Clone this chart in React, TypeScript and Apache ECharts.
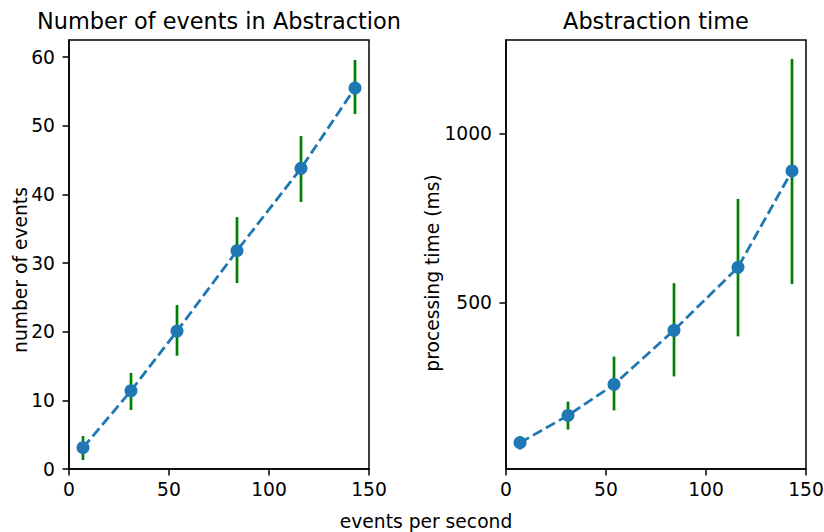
import React, { useEffect, useRef } from "react";
import * as echarts from "echarts";

// ---- data ----
const eventsPerSecond = [7, 31, 54, 84, 116, 143];

const countMean = [3.1, 11.4, 20.1, 31.8, 43.8, 55.5];
const countLow = [1.3, 8.6, 16.5, 27.1, 38.9, 51.7];
const countHigh = [4.8, 14.0, 23.9, 36.7, 48.5, 59.6];

const timeMean = [83, 164, 256, 417, 604, 890];
const timeLow = [63, 122, 179, 280, 399, 554];
const timeHigh = [103, 205, 339, 557, 807, 1223];

const xTicks = [0, 50, 100, 150];
const countTicks = [0, 10, 20, 30, 40, 50, 60];
const timeTicks = [500, 1000];

const leftTitle = "Number of events in Abstraction";
const rightTitle = "Abstraction time";
const xLabel = "events per second";
const leftYLabel = "number of events";
const rightYLabel = "processing time (ms)";

const FONT = "DejaVu Sans";
const BLUE = "#1f77b4";
const GREEN = "#008000";

export default function App() {
  const ref = useRef<HTMLDivElement>(null);

  useEffect(() => {
    if (!ref.current) return;
    const chart = echarts.init(ref.current, undefined, { renderer: "svg" });

    const axisCommon = {
      axisLine: { show: true, lineStyle: { color: "#000", width: 1.5 } },
      axisTick: { show: true, length: 6.5, lineStyle: { color: "#000", width: 1.5 } },
      splitLine: { show: false },
    };

    const plain = (v: number) => String(v);

    const makeX = (gridIndex: number) => ({
      type: "value",
      gridIndex,
      min: 0,
      max: 150,
      interval: 50,
      ...axisCommon,
      axisLabel: {
        fontSize: 18.7,
        color: "#000",
        fontFamily: FONT,
        margin: 11,
        formatter: plain,
        customValues: xTicks,
      },
      axisTick: { ...axisCommon.axisTick, customValues: xTicks },
    });

    const errRender = (params: any, api: any) => {
      const x = api.value(0);
      const p1 = api.coord([x, api.value(1)]);
      const p2 = api.coord([x, api.value(2)]);
      return {
        type: "line",
        shape: { x1: p1[0], y1: p1[1], x2: p2[0], y2: p2[1] },
        style: { stroke: GREEN, lineWidth: 2.7 },
      };
    };

    const option: any = {
      animation: false,
      backgroundColor: "#fff",
      textStyle: { fontFamily: FONT },
      grid: [
        { left: 69, top: 40, width: 300, height: 429, show: true, borderColor: "#000", borderWidth: 1.5, outerBoundsMode: "none" },
        { left: 506, top: 40, width: 300, height: 429, show: true, borderColor: "#000", borderWidth: 1.5, outerBoundsMode: "none" },
      ],
      xAxis: [makeX(0), makeX(1)],
      yAxis: [
        {
          type: "value",
          gridIndex: 0,
          min: 0,
          max: 62.5,
          ...axisCommon,
          axisLabel: { fontSize: 18.7, color: "#000", fontFamily: FONT, margin: 14, formatter: plain, customValues: countTicks },
          axisTick: { ...axisCommon.axisTick, customValues: countTicks },
        },
        {
          type: "value",
          gridIndex: 1,
          min: 5,
          max: 1279,
          ...axisCommon,
          axisLabel: { fontSize: 18.7, color: "#000", fontFamily: FONT, margin: 14, formatter: plain, customValues: timeTicks },
          axisTick: { ...axisCommon.axisTick, customValues: timeTicks },
        },
      ],
      series: [
        {
          type: "custom",
          xAxisIndex: 0,
          yAxisIndex: 0,
          z: 1,
          renderItem: errRender,
          data: eventsPerSecond.map((x, i) => [x, countLow[i], countHigh[i]]),
        },
        {
          type: "line",
          xAxisIndex: 0,
          yAxisIndex: 0,
          z: 2,
          data: eventsPerSecond.map((x, i) => [x, countMean[i]]),
          symbol: "circle",
          symbolSize: 13,
          itemStyle: { color: BLUE },
          lineStyle: { color: BLUE, width: 2.8, type: [10.4, 4.5] },
        },
        {
          type: "custom",
          xAxisIndex: 1,
          yAxisIndex: 1,
          z: 1,
          renderItem: errRender,
          data: eventsPerSecond.map((x, i) => [x, timeLow[i], timeHigh[i]]),
        },
        {
          type: "line",
          xAxisIndex: 1,
          yAxisIndex: 1,
          z: 2,
          data: eventsPerSecond.map((x, i) => [x, timeMean[i]]),
          symbol: "circle",
          symbolSize: 13,
          itemStyle: { color: BLUE },
          lineStyle: { color: BLUE, width: 2.8, type: [10.4, 4.5] },
        },
      ],
      graphic: [
        {
          type: "text",
          x: 219,
          y: 21,
          style: { text: leftTitle, textAlign: "center", textVerticalAlign: "middle", font: `22.4px '${FONT}'`, fill: "#000" },
        },
        {
          type: "text",
          x: 656,
          y: 21,
          style: { text: rightTitle, textAlign: "center", textVerticalAlign: "middle", font: `22.4px '${FONT}'`, fill: "#000" },
        },
        {
          type: "text",
          x: 426,
          y: 521,
          style: { text: xLabel, textAlign: "center", textVerticalAlign: "middle", font: `18.7px '${FONT}'`, fill: "#000" },
        },
        {
          type: "text",
          x: 20,
          y: 270,
          rotation: Math.PI / 2,
          style: { text: leftYLabel, textAlign: "center", textVerticalAlign: "middle", font: `18.7px '${FONT}'`, fill: "#000" },
        },
        {
          type: "text",
          x: 432,
          y: 273,
          rotation: Math.PI / 2,
          style: { text: rightYLabel, textAlign: "center", textVerticalAlign: "middle", font: `18.7px '${FONT}'`, fill: "#000" },
        },
      ],
    };

    chart.setOption(option);
    return () => chart.dispose();
  }, []);

  return (
    <div
      ref={ref}
      style={{ position: "fixed", left: 0, top: 0, width: 824, height: 532, background: "#fff" }}
    />
  );
}
